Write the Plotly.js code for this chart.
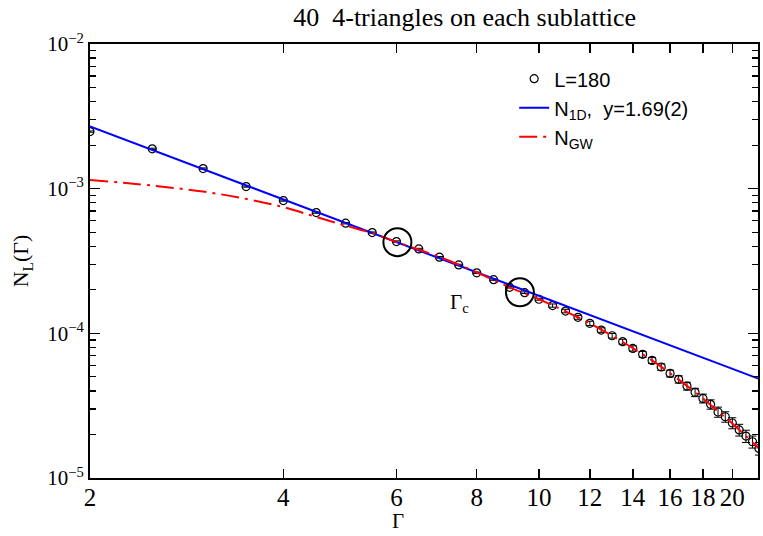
<!DOCTYPE html>
<html>
<head>
<meta charset="utf-8">
<script src="https://cdn.plot.ly/plotly-3.0.1.min.js"></script>
<style>html,body{margin:0;padding:0;background:#fff;}#chart{width:763px;height:536px;}</style>
</head>
<body>
<div id="chart"></div>
<script>
// Data
const gammaL180 = [2, 2.5, 3, 3.5, 4, 4.5, 5, 5.5, 6, 6.5, 7, 7.5, 8, 8.5, 9, 9.5, 10,
  10.5, 11, 11.5, 12, 12.5, 13, 13.5, 14, 14.5, 15, 15.5, 16, 16.5, 17, 17.5, 18,
  18.5, 19, 19.5, 20, 20.5, 21, 21.5, 22];
const nL180 = [2.48e-3, 1.886e-3, 1.377e-3, 1.034e-3, 8.27e-4, 6.83e-4, 5.77e-4, 4.97e-4,
  4.31e-4, 3.83e-4, 3.36e-4, 2.97e-4, 2.62e-4, 2.35e-4, 2.08e-4, 1.91e-4, 1.72e-4,
  1.556e-4, 1.426e-4, 1.291e-4, 1.172e-4, 1.054e-4, 9.62e-5, 8.75e-5, 7.87e-5, 7.16e-5,
  6.50e-5, 5.85e-5, 5.28e-5, 4.81e-5, 4.32e-5, 3.91e-5, 3.55e-5, 3.23e-5, 2.86e-5,
  2.65e-5, 2.40e-5, 2.15e-5, 1.95e-5, 1.78e-5, 1.60e-5];
const errL180 = [2.5e-5, 1.9e-5, 1.4e-5, 1.0e-5, 8e-6, 7e-6, 6e-6, 5e-6, 4.5e-6, 4e-6,
  3.5e-6, 3e-6, 3e-6, 2.5e-6, 2.5e-6, 2.5e-6, 2.5e-6,
  4e-6, 4e-6, 4e-6, 4e-6, 3.8e-6, 3.6e-6, 3.4e-6, 3.3e-6, 3.3e-6, 3.2e-6, 3.0e-6,
  2.9e-6, 2.8e-6, 2.7e-6, 2.6e-6, 2.5e-6, 2.4e-6, 2.3e-6, 2.2e-6, 2.1e-6, 2.0e-6,
  1.9e-6, 1.7e-6, 1.6e-6];

const gamma1D = [2, 22];
const n1D = [2.69e-3, 4.85e-5];

const gammaGW = [2, 2.5, 3, 3.5, 4, 4.5, 5, 5.5, 6, 7, 8, 9, 10, 11, 12, 13, 14, 15,
  16, 17, 18, 19, 20, 21, 22];
const nGW = [1.15e-3, 1.05e-3, 9.55e-4, 8.50e-4, 7.45e-4, 6.38e-4, 5.55e-4, 4.92e-4,
  4.28e-4, 3.37e-4, 2.64e-4, 2.08e-4, 1.72e-4, 1.42e-4, 1.17e-4, 9.6e-5, 7.9e-5,
  6.5e-5, 5.3e-5, 4.33e-5, 3.55e-5, 2.88e-5, 2.38e-5, 1.95e-5, 1.6e-5];

const gammaC = [6.02, 9.34];
const nC = [4.27e-4, 1.92e-4];

const xTickVals = [2, 4, 6, 8, 10, 12, 14, 16, 18, 20];
const xTickText = ['2', '4', '6', '8', '10', '12', '14', '16', '18', '20'];
const yTickVals = [1e-5, 1e-4, 1e-3, 1e-2];
const yTickText = ['10<sup>\u22125</sup>', '10<sup>\u22124</sup>', '10<sup>\u22123</sup>', '10<sup>\u22122</sup>'];
const yMinorVals = [];
[1e-5, 1e-4, 1e-3].forEach(d => { for (let k = 2; k <= 9; k++) yMinorVals.push(k * d); });

const serif = 'Liberation Serif, Times New Roman, serif';
const sans = 'Liberation Sans, Arial, sans-serif';

const traces = [
  {
    x: gammaL180, y: nL180, type: 'scatter', mode: 'markers', name: 'L=180',
    marker: {symbol: 'circle-open', size: 8, color: '#000', line: {width: 1.2, color: '#000'}},
    error_y: {type: 'data', array: errL180, visible: true, color: '#000', thickness: 1, width: 4}
  },
  {
    x: gamma1D, y: n1D, type: 'scatter', mode: 'lines',
    name: 'N<sub>1D</sub>,  y=1.69(2)',
    line: {color: '#0000ff', width: 2}
  },
  {
    x: gammaGW, y: nGW, type: 'scatter', mode: 'lines', name: 'N<sub>GW</sub>',
    line: {color: '#ff0000', width: 2, dash: '18px,6px,3px,6px', shape: 'spline'}
  },
  {
    x: gammaC, y: nC, type: 'scatter', mode: 'markers', showlegend: false, hoverinfo: 'skip',
    marker: {symbol: 'circle-open', size: 28, color: '#000', line: {width: 2, color: '#000'}}
  }
];

const layout = {
  width: 763, height: 536,
  margin: {l: 90, r: 5, t: 44, b: 58},
  paper_bgcolor: '#fff', plot_bgcolor: '#fff',
  showlegend: true,
  title: {
    text: '40  4-triangles on each sublattice',
    font: {family: serif, size: 26, color: '#000'},
    x: 428 / 763, xanchor: 'center', xref: 'paper', y: 1 - 17 / 536, yanchor: 'middle'
  },
  xaxis: {
    type: 'log', range: [Math.log10(2), 1.341],
    tickmode: 'array', tickvals: xTickVals, ticktext: xTickText,
    ticks: 'inside', ticklen: 9, tickwidth: 1.5, tickcolor: '#000',
    ticklabelstandoff: -4,
    showline: true, linecolor: '#000', linewidth: 2, mirror: 'ticks',
    showgrid: false, zeroline: false,
    tickfont: {family: serif, size: 25, color: '#000'}
  },
  yaxis: {
    type: 'log', range: [-5, -2],
    tickmode: 'array', tickvals: yTickVals, ticktext: yTickText,
    ticks: 'inside', ticklen: 10, tickwidth: 1.5, tickcolor: '#000',
    minor: {tickmode: 'array', tickvals: yMinorVals, ticks: 'inside', ticklen: 6, tickwidth: 1.2, tickcolor: '#000', showgrid: false},
    showline: true, linecolor: '#000', linewidth: 2, mirror: 'ticks',
    showgrid: false, zeroline: false,
    tickfont: {family: serif, size: 21, color: '#000'},
    title: {text: 'N<sub>L</sub>(\u0393)', font: {family: serif, size: 22, color: '#000'}, standoff: 12}
  },
  legend: {
    x: 0.635, y: 0.965, xanchor: 'left', yanchor: 'top',
    bgcolor: 'rgba(0,0,0,0)', borderwidth: 0,
    font: {family: sans, size: 20, color: '#000'},
    tracegroupgap: 0
  },
  annotations: [
    {
      text: '\u0393', xref: 'paper', yref: 'paper', x: (398 - 90) / 668, y: (478 - 535) / 434,
      xanchor: 'center', yanchor: 'bottom', showarrow: false,
      font: {family: serif, size: 21, color: '#000'}
    },
    {
      text: '\u0393<sub>c</sub>', xref: 'paper', yref: 'paper', x: (459 - 90) / 668, y: 1 - (303 - 44) / 434,
      xanchor: 'center', yanchor: 'middle', showarrow: false,
      font: {family: serif, size: 21, color: '#000'}
    }
  ]
};

Plotly.newPlot('chart', traces, layout, {displayModeBar: false, staticPlot: true});
</script>
</body>
</html>
